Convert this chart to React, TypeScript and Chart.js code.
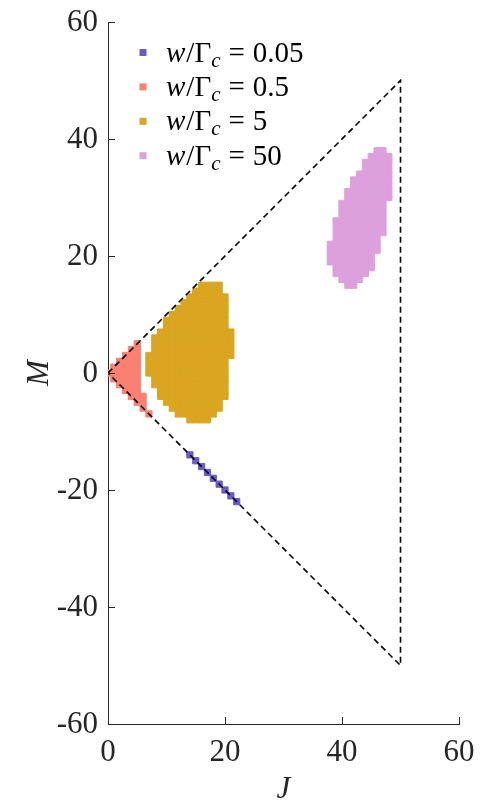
import React, { useEffect, useRef } from 'react';
import { Chart, registerables } from 'chart.js';

Chart.register(...registerables);

const FONT = "'Liberation Serif', 'Times New Roman', serif";
const AXIS_COLOR = '#262626';

// Legend labels (w / Γc values) and colours
const seriesValues = ['0.05', '0.5', '5', '50'];
const seriesColors = ['#6A5ACD', '#FA8072', '#DAA520', '#DDA0DD'];

// w/Γc = 0.05 : individual cells (J, M)
const blueJ = [14, 15, 16, 17, 18, 19, 20, 21, 22];
const blueM = [-14, -15, -16, -17, -18, -19, -20, -21, -22];

// w/Γc = 0.5 : columns J with M range
const redJ = [0, 1, 2, 3, 4, 5, 6, 7];
const redMmin = [0, -1, -2, -3, -4, -5, -6, -7];
const redMmax = [0, 1, 2, 3, 4, 5, -4, -7];

// w/Γc = 5 : columns J with M range
const goldJ = [7, 8, 9, 10, 11, 12, 13, 14, 15, 16, 17, 18, 19, 20, 21];
const goldMmin = [0, -2, -4, -5, -6, -7, -7, -8, -8, -8, -8, -7, -6, -4, 3];
const goldMmax = [3, 6, 7, 9, 10, 11, 12, 13, 14, 15, 15, 15, 15, 13, 7];

// w/Γc = 50 : rows M with J range
const plumM = [15, 16, 17, 18, 19, 20, 21, 22, 23, 24, 25, 26, 27, 28, 29, 30, 31, 32, 33, 34, 35, 36, 37, 38];
const plumJmin = [41, 40, 39, 39, 38, 38, 38, 38, 39, 39, 39, 39, 40, 40, 40, 41, 41, 42, 42, 43, 44, 44, 45, 46];
const plumJmax = [42, 43, 44, 45, 45, 45, 46, 46, 46, 47, 47, 47, 47, 47, 47, 48, 48, 48, 48, 48, 48, 48, 48, 47];

// Dashed boundary |M| <= J <= 50
const boundJ = [0, 50, 50, 0];
const boundM = [0, 50, -50, 0];

const xTicks = [0, 20, 40, 60];
const yTicks = [-60, -40, -20, 0, 20, 40, 60];

function cellsFromColumns(js: number[], mins: number[], maxs: number[]) {
  const pts: { x: number; y: number }[] = [];
  js.forEach((j, i) => {
    for (let m = mins[i]; m <= maxs[i]; m++) pts.push({ x: j, y: m });
  });
  return pts;
}
function cellsFromRows(ms: number[], mins: number[], maxs: number[]) {
  const pts: { x: number; y: number }[] = [];
  ms.forEach((m, i) => {
    for (let j = mins[i]; j <= maxs[i]; j++) pts.push({ x: j, y: m });
  });
  return pts;
}

const decorPlugin = {
  id: 'decor',
  afterDraw(chart: any) {
    const ctx = chart.ctx as CanvasRenderingContext2D;
    const xs = chart.scales.x;
    const ys = chart.scales.y;
    const area = chart.chartArea;
    ctx.save();
    // inward ticks
    ctx.strokeStyle = AXIS_COLOR;
    ctx.lineWidth = 1;
    ctx.beginPath();
    xTicks.forEach((v) => {
      const px = Math.round(xs.getPixelForValue(v)) + 0.5;
      ctx.moveTo(px, area.bottom);
      ctx.lineTo(px, area.bottom - 7);
    });
    yTicks.forEach((v) => {
      const py = Math.round(ys.getPixelForValue(v)) + 0.5;
      ctx.moveTo(area.left, py);
      ctx.lineTo(area.left + 7, py);
    });
    ctx.stroke();

    // tick labels
    ctx.fillStyle = AXIS_COLOR;
    ctx.font = `31px ${FONT}`;
    ctx.textBaseline = 'alphabetic';
    ctx.textAlign = 'center';
    xTicks.forEach((v) => {
      ctx.fillText(String(v), xs.getPixelForValue(v), 761);
    });
    ctx.textAlign = 'right';
    yTicks.forEach((v) => {
      ctx.fillText(String(v), area.left - 10, ys.getPixelForValue(v) + 9);
    });

    // axis titles
    ctx.textAlign = 'center';
    ctx.font = `italic 31px ${FONT}`;
    ctx.fillText('J', (area.left + area.right) / 2, 798);
    ctx.save();
    ctx.translate(48, (area.top + area.bottom) / 2);
    ctx.rotate(-Math.PI / 2);
    ctx.fillText('M', 0, 0);
    ctx.restore();

    // legend
    const mx = 143;
    const y0 = 52.5;
    const dy = 34.4;
    ctx.textAlign = 'left';
    seriesValues.forEach((val, i) => {
      const cy = y0 + i * dy;
      ctx.fillStyle = seriesColors[i];
      ctx.fillRect(mx - 3.5, cy - 3.5, 7, 7);
      ctx.fillStyle = '#000';
      const base = cy + 9;
      let x = 166;
      ctx.font = `italic 29px ${FONT}`;
      ctx.fillText('w', x, base);
      x += ctx.measureText('w').width + 1;
      ctx.font = `29px ${FONT}`;
      ctx.fillText('/Γ', x, base);
      x += ctx.measureText('/Γ').width;
      ctx.font = `italic 21px ${FONT}`;
      ctx.fillText('c', x, base + 5);
      x += ctx.measureText('c').width + 8;
      ctx.font = `29px ${FONT}`;
      ctx.fillText('=', x, base);
      x += ctx.measureText('=').width + 8;
      ctx.fillText(val, x, base);
    });
    ctx.restore();
  },
};

export default function App() {
  const ref = useRef<HTMLCanvasElement | null>(null);
  useEffect(() => {
    if (!ref.current) return;
    const cellStyle = (color: string) => ({
      backgroundColor: color,
      borderColor: color,
      pointStyle: 'rect' as const,
      pointRadius: 4.4,
      pointBorderWidth: 1,
      pointHoverRadius: 4.4,
      clip: 0,
      order: 1,
    });
    const chart = new Chart(ref.current, {
      type: 'scatter',
      data: {
        datasets: [
          {
            label: 'boundary',
            data: boundJ.map((j, i) => ({ x: j, y: boundM[i] })),
            showLine: true,
            borderColor: '#000',
            borderWidth: 1.6,
            borderDash: [6, 4],
            pointRadius: 0,
            fill: false,
            order: 0,
          } as any,
          { label: 'w/Γc = 0.05', data: blueJ.map((j, i) => ({ x: j, y: blueM[i] })), ...cellStyle(seriesColors[0]) },
          { label: 'w/Γc = 0.5', data: cellsFromColumns(redJ, redMmin, redMmax), ...cellStyle(seriesColors[1]) },
          { label: 'w/Γc = 5', data: cellsFromColumns(goldJ, goldMmin, goldMmax), ...cellStyle(seriesColors[2]) },
          { label: 'w/Γc = 50', data: cellsFromRows(plumM, plumJmin, plumJmax), ...cellStyle(seriesColors[3]) },
        ],
      },
      options: {
        animation: false,
        responsive: false,
        maintainAspectRatio: false,
        events: [],
        layout: { padding: { left: 0, right: 21, top: 22, bottom: 0 } },
        plugins: { legend: { display: false }, tooltip: { enabled: false } },
        scales: {
          x: {
            type: 'linear',
            min: 0,
            max: 60,
            afterFit: (s: any) => {
              s.height = 78;
            },
            ticks: { display: false, stepSize: 20 },
            grid: { display: false, drawTicks: false },
            border: { display: true, color: AXIS_COLOR, width: 1 },
          },
          y: {
            type: 'linear',
            min: -60,
            max: 60,
            afterFit: (s: any) => {
              s.width = 108;
            },
            ticks: { display: false, stepSize: 20 },
            grid: { display: false, drawTicks: false },
            border: { display: true, color: AXIS_COLOR, width: 1 },
          },
        },
      },
      plugins: [decorPlugin],
    });
    return () => chart.destroy();
  }, []);
  return (
    <div style={{ position: 'absolute', left: 0, top: 0, width: 480, height: 802, background: '#fff' }}>
      <canvas ref={ref} width={480} height={802} style={{ display: 'block' }} />
    </div>
  );
}
